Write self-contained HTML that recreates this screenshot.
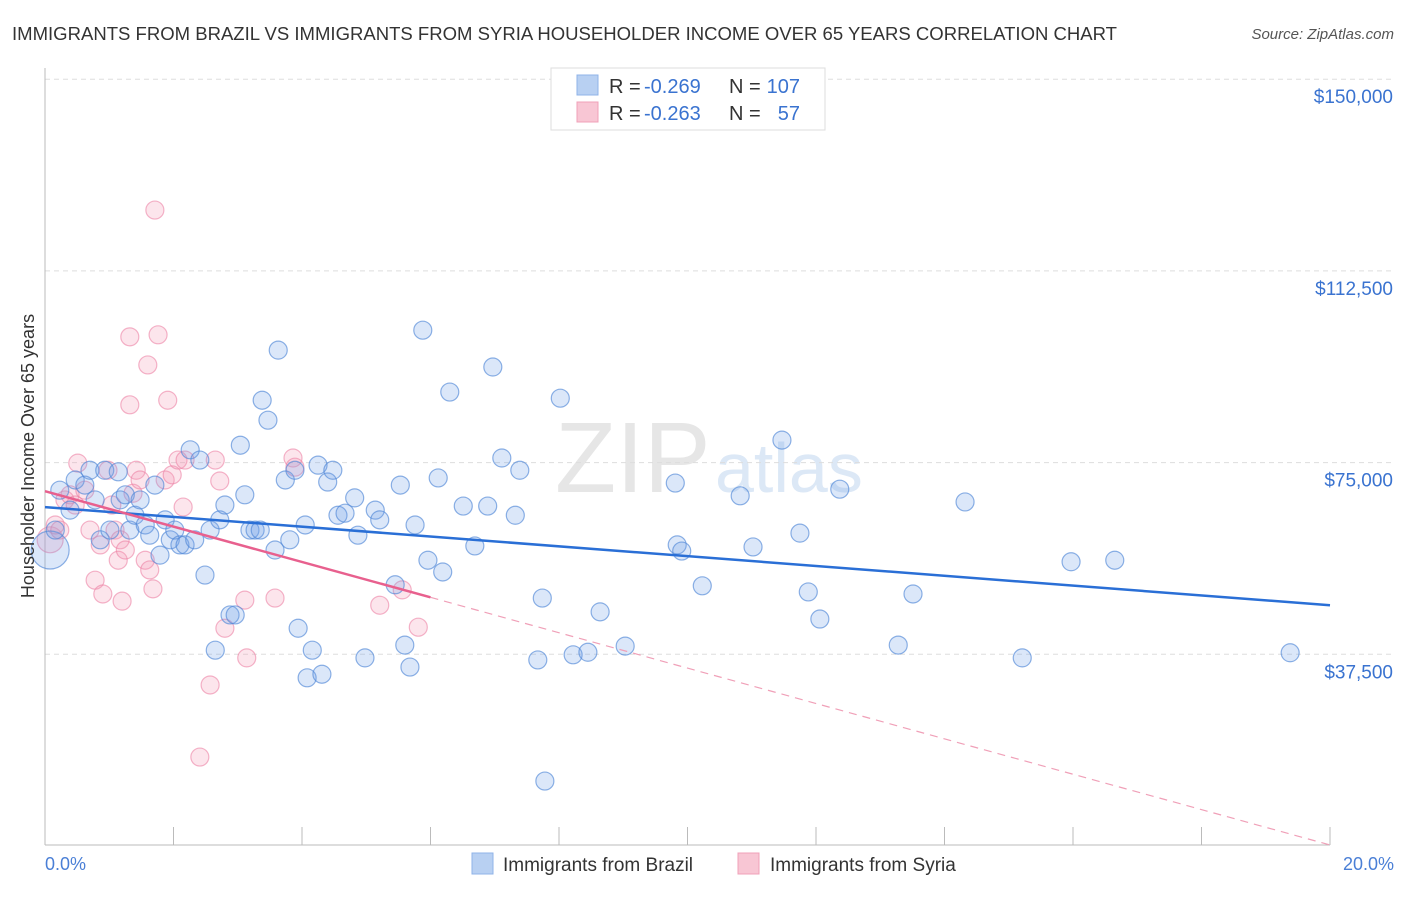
<!DOCTYPE html>
<html><head><meta charset="utf-8"><style>
body{margin:0;background:#fff;font-family:"Liberation Sans",sans-serif;}
svg text{font-family:"Liberation Sans",sans-serif;}
</style></head><body>
<svg id="chart" width="1406" height="892" xmlns="http://www.w3.org/2000/svg">
<text x="12" y="40" font-size="18" fill="#333" textLength="1105" lengthAdjust="spacingAndGlyphs">IMMIGRANTS FROM BRAZIL VS IMMIGRANTS FROM SYRIA HOUSEHOLDER INCOME OVER 65 YEARS CORRELATION CHART</text>
<text x="1394" y="39" font-size="15" fill="#555" text-anchor="end" font-style="italic">Source: ZipAtlas.com</text>
<text x="555" y="492" font-size="100" fill="#e6e6e6" font-family="Liberation Serif">ZIP</text>
<text x="715" y="492" font-size="70" fill="#dce8f6">atlas</text>
<g id="grid"></g>
<g id="axes"></g>
<g id="points"></g>
<g id="trends"></g>
<text transform="translate(34,456) rotate(-90)" font-size="18" fill="#333" text-anchor="middle">Householder Income Over 65 years</text>
<text x="45" y="870" font-size="18" fill="#4a7fd6">0.0%</text>
<text x="1394" y="870" font-size="18" fill="#4a7fd6" text-anchor="end">20.0%</text>
<g>
<rect x="551" y="68" width="274" height="62" fill="#fff" stroke="#ddd"/>
<rect x="577" y="75" width="21" height="20" fill="#b8d0f2" stroke="#8fb3e8"/>
<rect x="577" y="102" width="21" height="20" fill="#f8c6d4" stroke="#f0a0b8"/>
<text x="609" y="93" font-size="20" fill="#333">R =</text>
<text x="644" y="93" font-size="20" fill="#3a73d0">-0.269</text>
<text x="729" y="93" font-size="20" fill="#333">N =</text>
<text x="800" y="93" font-size="20" fill="#3a73d0" text-anchor="end">107</text>
<text x="609" y="120" font-size="20" fill="#333">R =</text>
<text x="644" y="120" font-size="20" fill="#3a73d0">-0.263</text>
<text x="729" y="120" font-size="20" fill="#333">N =</text>
<text x="800" y="120" font-size="20" fill="#3a73d0" text-anchor="end">57</text>
</g>
<g>
<rect x="472" y="853" width="21" height="21" fill="#b8d0f2" stroke="#8fb3e8"/>
<text x="503" y="871" font-size="19" fill="#333">Immigrants from Brazil</text>
<rect x="738" y="853" width="21" height="21" fill="#f8c6d4" stroke="#f0a0b8"/>
<text x="770" y="871" font-size="19" fill="#333">Immigrants from Syria</text>
</g>
</svg>
<script>
const yTicks=[37500,75000,112500,150000];
const yTickLabels=["$37,500","$75,000","$112,500","$150,000"];
const xTicks=[0,2,4,6,8,10,12,14,16,18,20];
const brazilX=[0.08,0.16,0.23,0.39,0.47,0.62,0.70,0.78,0.86,0.93,1.01,1.14,1.17,1.25,1.32,1.40,1.48,1.56,1.63,1.71,1.79,1.87,1.95,2.02,2.10,2.18,2.26,2.33,2.41,2.49,2.57,2.65,2.72,2.80,2.88,2.96,3.04,3.11,3.19,3.27,3.35,3.38,3.47,3.58,3.63,3.74,3.81,3.89,3.94,4.05,4.08,4.16,4.25,4.31,4.40,4.48,4.56,4.67,4.82,4.87,4.98,5.14,5.21,5.45,5.53,5.60,5.68,5.76,5.88,5.96,6.12,6.19,6.30,6.51,6.69,6.89,6.97,7.11,7.32,7.39,7.67,7.74,7.78,8.02,8.22,8.45,8.64,9.03,9.81,9.84,9.91,10.23,10.82,11.02,11.47,11.75,11.88,12.06,12.37,13.28,13.51,14.32,15.21,15.97,16.65,19.38];
const brazilY=[57.9,61.8,69.6,65.7,71.6,70.6,73.5,67.7,59.9,73.5,61.8,73.2,67.7,68.7,61.8,64.7,67.7,62.8,60.8,70.6,56.9,63.8,59.9,61.8,58.9,58.9,77.5,59.9,75.5,53.0,61.8,38.3,63.8,66.7,45.2,45.2,78.4,68.7,61.8,61.8,61.8,87.2,83.3,57.9,97.0,71.6,59.9,73.5,42.6,62.8,32.9,38.3,74.5,33.6,71.2,73.5,64.7,65.1,68.1,60.8,36.8,65.7,63.8,51.1,70.6,39.3,35.0,62.8,100.9,55.9,72.0,53.6,88.8,66.5,58.7,66.5,93.7,75.9,64.7,73.5,36.4,48.5,12.7,87.6,37.4,37.9,45.8,39.1,71.0,58.9,57.7,50.9,68.5,58.5,79.4,61.2,49.7,44.4,69.8,39.3,49.3,67.3,36.8,55.6,55.9,37.8];
const syriaX=[0.08,0.16,0.23,0.31,0.39,0.47,0.51,0.62,0.70,0.78,0.86,0.90,0.98,1.04,1.09,1.14,1.17,1.20,1.25,1.32,1.32,1.37,1.42,1.48,1.56,1.60,1.63,1.68,1.71,1.76,1.87,1.91,1.98,2.07,2.15,2.18,2.41,2.57,2.65,2.72,2.80,3.11,3.14,3.58,3.86,3.89,5.21,5.56,5.81];
const syriaY=[59.9,62.8,61.8,67.7,68.7,66.7,74.9,69.6,61.8,52.0,58.9,49.3,73.5,66.7,61.8,55.9,59.9,47.9,57.9,99.6,86.3,69.0,73.5,71.6,55.9,94.1,54.0,50.3,124.4,100.0,71.6,87.2,72.6,75.5,66.3,75.5,17.4,31.5,75.5,71.4,42.6,48.1,36.8,48.5,75.9,74.1,47.1,50.1,42.8];
const brazilTrend=[66.3,47.1];
const syriaTrend=[69.4,0.2];
const syriaSolidEnd=6;

const NS="http://www.w3.org/2000/svg";
const xS=p=>45+p/20*1285;
const yS=v=>846-v/37500*191.7;
function mk(tag,attrs,parent){const e=document.createElementNS(NS,tag);for(const k in attrs)e.setAttribute(k,attrs[k]);document.getElementById(parent).appendChild(e);return e;}
yTicks.forEach((t,i)=>{
  const g=mk('line',{x1:45,x2:1394,y1:yS(t),y2:yS(t),stroke:'#ddd','stroke-dasharray':'5,4'},'grid');
  
  
  const tx=mk('text',{x:1393,y:yS(t)+24,'font-size':19,fill:'#3a73d0','text-anchor':'end'},'grid');
  tx.textContent=yTickLabels[i];
  
  
});
const ya=mk('line',{x1:45,x2:45,y1:68,y2:845,stroke:'#bbb'},'axes');


const xa=mk('line',{x1:45,x2:1330,y1:845,y2:845,stroke:'#bbb'},'axes');


xTicks.forEach(t=>{
  const l=mk('line',{x1:xS(t),x2:xS(t),y1:827,y2:845,stroke:'#bbb'},'axes');
  
  
});
function pts(xs,ys,fill,stroke,name){
  xs.forEach((x,i)=>{
    const r=(i===0)?(name==='brazil-point'?19:13):9;
    const c=mk('circle',{cx:xS(x),cy:yS(ys[i]*1000),r:r,fill:fill,stroke:stroke,'stroke-width':1.2},'points');
    
    
  });
}
pts(syriaX,syriaY,'rgba(244,150,180,0.25)','rgba(236,130,165,0.6)','syria-point');
pts(brazilX,brazilY,'rgba(110,160,230,0.25)','rgba(80,135,215,0.65)','brazil-point');
const bt=mk('line',{x1:xS(0),y1:yS(brazilTrend[0]*1000),x2:xS(20),y2:yS(brazilTrend[1]*1000),stroke:'#2a6fd6','stroke-width':2.5},'trends');


const sy=v=>syriaTrend[0]+(syriaTrend[1]-syriaTrend[0])*v/20;
const st=mk('line',{x1:xS(0),y1:yS(sy(0)*1000),x2:xS(syriaSolidEnd),y2:yS(sy(syriaSolidEnd)*1000),stroke:'#e8608e','stroke-width':2.5},'trends');


const sd=mk('line',{x1:xS(syriaSolidEnd),y1:yS(sy(syriaSolidEnd)*1000),x2:xS(20),y2:yS(sy(20)*1000),stroke:'#f0a0b8','stroke-width':1.2,'stroke-dasharray':'8,6'},'trends');


</script>
</body></html>
